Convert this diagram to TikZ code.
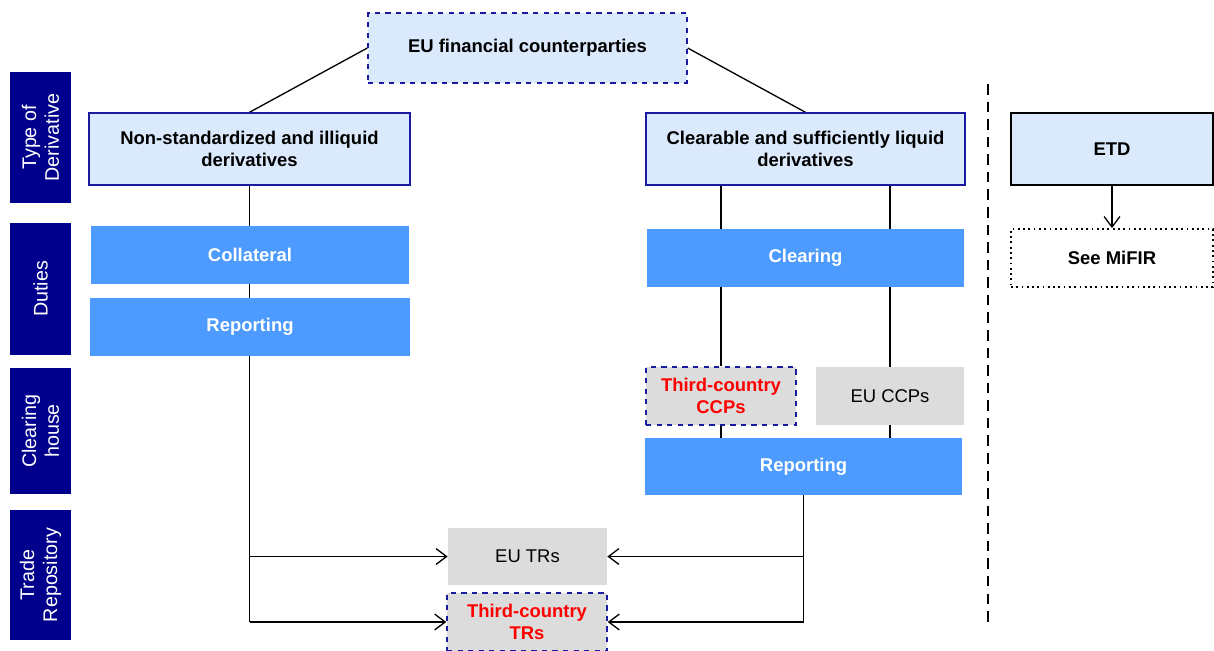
\documentclass[tikz,border=0pt]{standalone}
\usepackage{fontspec}
\setmainfont{Liberation Sans}
\usepackage{tikz}
\usetikzlibrary{arrows.meta}
\usetikzlibrary{backgrounds}
\definecolor{emirNavy}{HTML}{00008C}
\definecolor{emirLight}{HTML}{DAE9FB}
\definecolor{emirBlue}{HTML}{4D9BFF}
\definecolor{emirGrey}{HTML}{DCDCDC}
\definecolor{emirRed}{HTML}{FF0000}
\definecolor{emirFrame}{HTML}{1A1AA0}

\begin{document}
\begin{tikzpicture}[x=0.02cm,y=-0.02cm,
  font=\fontsize{10.5}{12.5}\selectfont,
  >={Straight Barb[length=6pt,width=9pt]},
  conn/.style={draw=black,line width=0.75pt},
  side/.style={fill=emirNavy,text=white,rotate=90,align=center,
    inner sep=0pt,minimum height=1.22cm,font=\fontsize{11.2}{13}\selectfont},
  typebox/.style={draw=emirFrame,fill=emirLight,line width=0.8pt,align=center,
    font=\fontsize{10.5}{12.5}\selectfont\bfseries,inner sep=0pt},
  dutybox/.style={fill=emirBlue,text=white,inner sep=0pt,
    font=\fontsize{10.5}{12.5}\selectfont\bfseries},
  housebox/.style={fill=emirGrey,inner sep=0pt,align=center},
  thirdbox/.style={housebox,draw=emirFrame,dashed,line width=0.8pt,text=emirRed,
    font=\fontsize{10.5}{12.5}\selectfont\bfseries}]
  \useasboundingbox (0,0) rectangle (1214,650);

  %% row labels
  \node[side,minimum width=2.62cm] (lbType) at (40.5,137.5) {Type of\\Derivative};
  \node[side,minimum width=2.64cm] (lbDuty) at (40.5,289) {Duties};
  \node[side,minimum width=2.52cm] (lbHouse) at (40.5,431) {Clearing\\house};
  \node[side,minimum width=2.60cm] (lbRepo) at (40.5,575) {Trade\\Repository};

  %% type of derivative
  \node[typebox,dashed,minimum width=6.38cm,minimum height=1.4cm] (eufc) at (527.5,48) {EU financial counterparties};
  \node[typebox,minimum width=6.42cm,minimum height=1.44cm] (nonstd) at (249.5,149) {Non-standardized and illiquid\\derivatives};
  \node[typebox,minimum width=6.38cm,minimum height=1.44cm] (liquid) at (805.5,149) {Clearable and sufficiently liquid\\derivatives};
  \node[typebox,draw=black,minimum width=4.04cm,minimum height=1.44cm] (etd) at (1112,149) {ETD};
  \node[draw=black,dotted,line width=1pt,fill=white,minimum width=4.04cm,minimum height=1.16cm,
    font=\fontsize{10.5}{12.5}\selectfont\bfseries] (mifir) at (1112,258) {See MiFIR};

  %% duties
  \node[dutybox,minimum width=6.36cm,minimum height=1.16cm] (coll) at (250,255) {Collateral};
  \node[dutybox,minimum width=6.40cm,minimum height=1.16cm] (repL) at (250,327) {Reporting};
  \node[dutybox,minimum width=6.34cm,minimum height=1.16cm] (clr) at (805.5,258) {Clearing};

  %% clearing house
  \node[thirdbox,minimum width=3.0cm,minimum height=1.16cm] (tcccp) at (721,396) {Third-country\\CCPs};
  \node[housebox,minimum width=2.96cm,minimum height=1.16cm] (euccp) at (890,396) {EU CCPs};
  \node[dutybox,minimum width=6.34cm,minimum height=1.14cm] (repR) at (803.5,466.5) {Reporting};

  %% trade repository
  \node[housebox,minimum width=3.18cm,minimum height=1.14cm] (eutr) at (527.5,556.5) {EU TRs};
  \node[thirdbox,minimum width=3.2cm,minimum height=1.16cm] (tctr) at (527,622) {Third-country\\TRs};

  % separator
  \draw[line width=1.2pt,dash pattern=on 6pt off 4pt] (988,84) -- (988,625);

  \begin{scope}[on background layer]
    \draw[conn] (eufc.west) -- (nonstd.north);
    \draw[conn] (eufc.east) -- (liquid.north);
    % left branch
    \draw[conn] (nonstd.south) -- (nonstd.south |- tctr.west);
    \draw[conn,->] (nonstd.south |- eutr.west) -- (eutr.west);
    \draw[conn,->] (nonstd.south |- tctr.west) -- (tctr.west);
    % right branch
    \draw[conn] (tcccp.north |- liquid.south) -- (tcccp.north);
    \draw[conn] (euccp.north |- liquid.south) -- (euccp.north);
    \draw[conn] (tcccp.south) -- (tcccp.south |- repR.north);
    \draw[conn] (euccp.south) -- (euccp.south |- repR.north);
    \draw[conn] (repR.south) -- (repR.south |- tctr.east);
    \draw[conn,->] (repR.south |- eutr.east) -- (eutr.east);
    \draw[conn,->] (repR.south |- tctr.east) -- (tctr.east);
    % ETD
    \draw[conn,->] (etd.south) -- (mifir.north);
  \end{scope}
\end{tikzpicture}
\end{document}
